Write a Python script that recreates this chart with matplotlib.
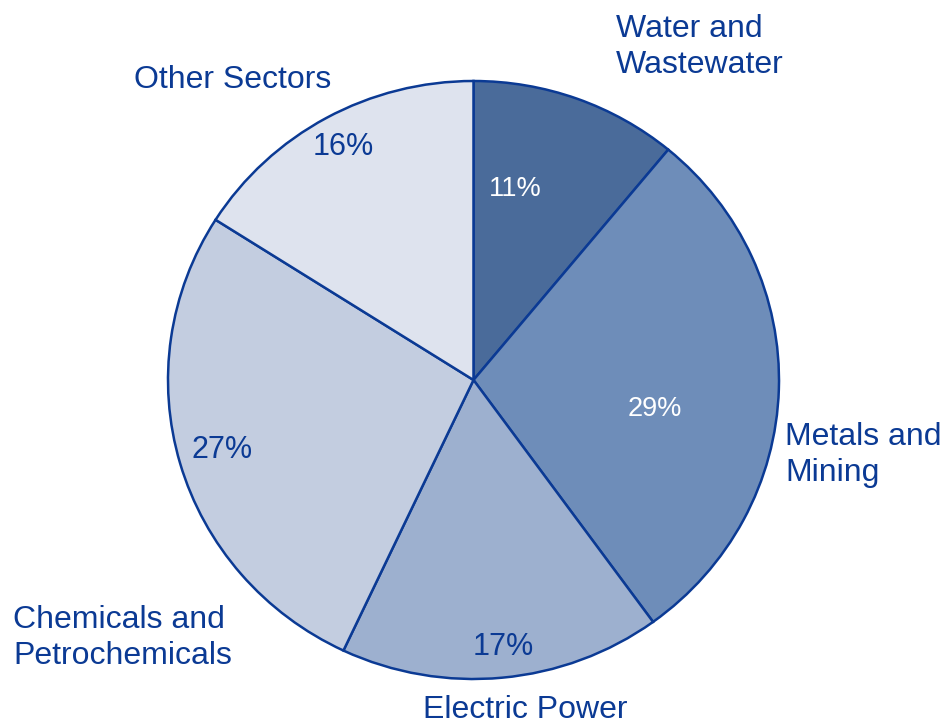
import matplotlib
matplotlib.use("Agg")
import matplotlib.pyplot as plt

# Data
sectors = ["Water and\nWastewater", "Metals and\nMining", "Electric Power",
           "Chemicals and\nPetrochemicals", "Other Sectors"]
shares = [11, 29, 17, 27, 16]
colors = ["#4A6B9A", "#6E8DB9", "#9DB0CF", "#C3CDE0", "#DEE3EE"]
pct_colors = ["white", "white", "#0B3A94", "#0B3A94", "#0B3A94"]

navy = "#0B3A94"
plt.rcParams['font.family'] = ['Liberation Sans', 'DejaVu Sans']

W, H = 944, 724
fig = plt.figure(figsize=(W / 100, H / 100), dpi=100)
# pie box in pixels (slightly wider than tall, as in the original)
cx, cy, rx, ry = 473.5, 380, 305.5, 299
ax = fig.add_axes([(cx - rx) / W, (H - cy - ry) / H, 2 * rx / W, 2 * ry / H])

wedges, _ = ax.pie(shares, colors=colors, startangle=90, counterclock=False,
                   radius=1, wedgeprops=dict(edgecolor=navy, linewidth=1.8))
ax.set_xlim(-1, 1)
ax.set_ylim(-1, 1)
ax.set_aspect('auto')
ax.axis('off')


def px(x, y):
    return (x - cx) / rx, (cy - y) / ry


# Label placement (pixel positions)
pct_pos = [(515, 189), (655, 409), (503, 647), (222, 450), (343, 147)]
name_pos = [(616, 47, 'left'), (785, 455, 'left'), (525, 710, 'center'),
            (13, 638, 'left'), (233, 80, 'center')]

for s, c, (x, y) in zip(shares, pct_colors, pct_pos):
    ax.text(*px(x, y), f"{s}%", color=c, fontsize=22 if c != "white" else 19.5,
            ha='center', va='center', clip_on=False)

for name, (x, y, ha) in zip(sectors, name_pos):
    ax.text(*px(x, y), name, color=navy, fontsize=23, ha=ha, va='center',
            linespacing=1.27, clip_on=False)

fig.savefig("out.png", dpi=100)
